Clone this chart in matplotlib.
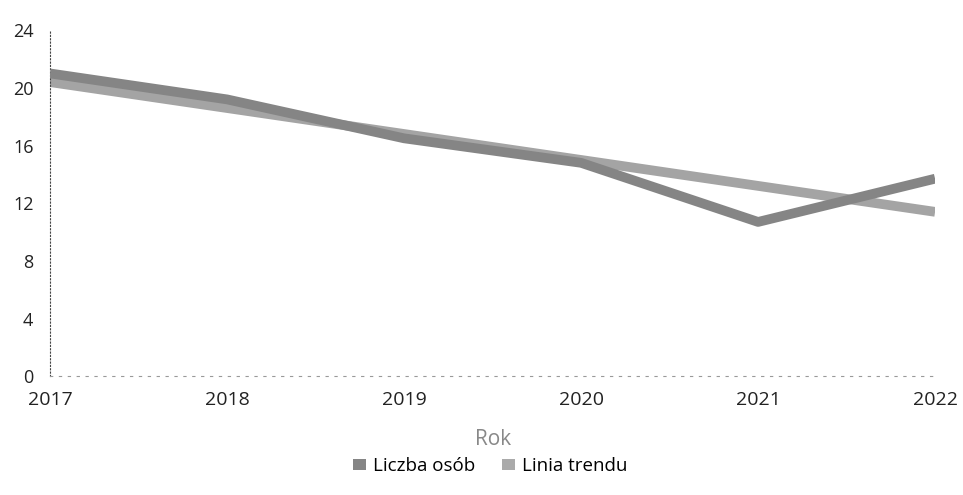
import matplotlib
matplotlib.use("Agg")
import matplotlib.pyplot as plt
from matplotlib.patches import Patch

years = [2017, 2018, 2019, 2020, 2021, 2022]
liczba_osob = [21.0, 19.2, 16.5, 14.8, 10.7, 13.7]
linia_trendu = [20.4, 18.6, 16.8, 15.0, 13.2, 11.4]
y_ticks = [0, 4, 8, 12, 16, 20, 24]

plt.rcParams['font.family'] = ['Open Sans', 'DejaVu Sans']

fig = plt.figure(figsize=(9.63, 4.95), dpi=100)
ax = fig.add_axes([0.052, 0.240, 0.919, 0.699])

ax.plot(years, linia_trendu, color='#a4a4a4', lw=7, solid_capstyle='butt', zorder=2)
ax.plot(years, liczba_osob, color='#858585', lw=7, solid_capstyle='butt', zorder=3)

ax.set_xlim(2017, 2022)
ax.set_ylim(0, 24)
ax.set_yticks(y_ticks)
ax.set_xticks(years)
ax.tick_params(length=0, colors='#222222')
ax.tick_params(axis='y', labelsize=13, pad=12)
ax.tick_params(axis='x', labelsize=14, pad=11)

for s in ['top', 'right']:
    ax.spines[s].set_visible(False)
ax.spines['left'].set_linestyle((0, (1, 2)))
ax.spines['left'].set_color('#444444')
ax.spines['left'].set_linewidth(0.8)
ax.spines['bottom'].set_linestyle((0, (2, 6)))
ax.spines['bottom'].set_color('#999999')
ax.spines['bottom'].set_linewidth(0.8)

ax.set_xlabel('Rok', fontsize=15, color='#888888', labelpad=14)

handles = [Patch(facecolor='#858585', label='Liczba osób'),
           Patch(facecolor='#aaaaaa', label='Linia trendu')]
fig.legend(handles=handles, loc='center', bbox_to_anchor=(0.509, 0.058), ncol=2,
           frameon=False, fontsize=13.5, handlelength=0.7, handleheight=0.5,
           handletextpad=0.4, columnspacing=1.4)

fig.savefig('out.png', dpi=100)
